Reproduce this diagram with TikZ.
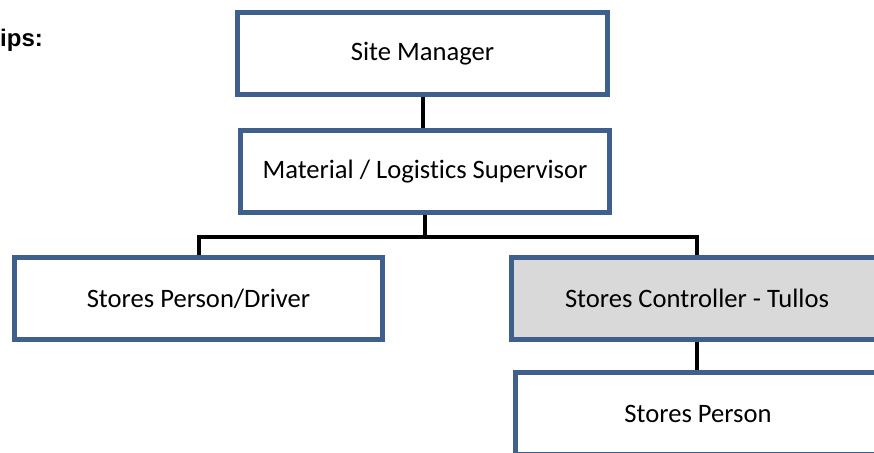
\documentclass[tikz,border=0pt]{standalone}
\usepackage{fontspec}
\setmainfont{Carlito}[Ligatures=NoCommon]
\newfontfamily\headfont{Liberation Sans}
\usetikzlibrary{positioning}
\definecolor{boxblue}{HTML}{3F5F8C}
\definecolor{boxgray}{HTML}{D9D9D9}

\begin{document}
\begin{tikzpicture}[
        x=1pt, y=-1pt,
        role/.style={rectangle, draw=boxblue, line width=5pt, fill=white, minimum width=370pt, minimum height=82pt, inner sep=0pt, font=\fontsize{26.6}{30}\selectfont},
        lead/.style={role, fill=boxgray},
        link/.style={-, line width=4pt, black}
    ]
        \useasboundingbox (0,0) rectangle (874,452);

        % Heading (cut at the left edge)
        \node[anchor=base west, inner sep=0pt, font=\headfont\bfseries\fontsize{24}{28}\selectfont] (title) at (0,47) {ips:};

        % Top of the tree
        \node[role] (sm) at (422.5,53.5) {Site Manager};
        \node[role, minimum width=369pt] (mat) at (425,171.5) {Material / Logistics Supervisor};

        % Second level
        \node[role, minimum width=368pt] (drv) at (198.5,298.5) {Stores Person/Driver};
        \node[lead, minimum width=371pt] (ctl) at (697,298.5) {Stores Controller - Tullos};
        \node[role, minimum width=365pt] (sp) at (698,413.5) {Stores Person};

        \coordinate (bus) at (425,237);

        \draw[link] (sm.south) -- (sm.south |- mat.north);
        \draw[link] (mat.south) -- (bus);
        \draw[link] (drv.north) |- (bus) -| (ctl.north);
        \draw[link] (ctl.south) -- (ctl.south |- sp.north);

    \end{tikzpicture}
\end{document}
